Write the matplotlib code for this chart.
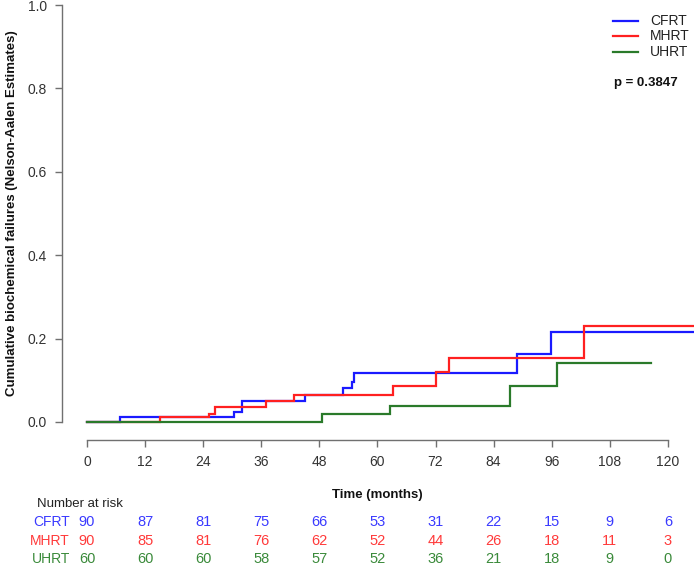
import matplotlib
matplotlib.use("Agg")
import matplotlib.pyplot as plt
from matplotlib.lines import Line2D
from matplotlib.transforms import blended_transform_factory
import numpy as np

plt.rcParams['font.family'] = ['Liberation Sans', 'DejaVu Sans']

groups = ["CFRT", "MHRT", "UHRT"]
colors = ["#1a1aff", "#ff2020", "#2a7a2a"]
table_colors = ["#3a3aff", "#ff3a3a", "#3a8a3a"]

cfrt_t = [0, 6.8, 30.4, 32.0, 45.0, 52.8, 54.7, 55.2, 88.8, 95.9, 127]
cfrt_y = [0, 0.011, 0.025, 0.051, 0.065, 0.081, 0.097, 0.118, 0.164, 0.217, 0.217]
mhrt_t = [0, 15.0, 25.2, 26.4, 36.9, 42.8, 63.2, 72.2, 74.7, 102.6, 127]
mhrt_y = [0, 0.011, 0.020, 0.037, 0.051, 0.065, 0.087, 0.120, 0.153, 0.231, 0.231]
uhrt_t = [0, 48.6, 62.7, 87.4, 97.0, 116.5]
uhrt_y = [0, 0.018, 0.038, 0.087, 0.142, 0.142]

risk_times = [0, 12, 24, 36, 48, 60, 72, 84, 96, 108, 120]
risk_cfrt = [90, 87, 81, 75, 66, 53, 31, 22, 15, 9, 6]
risk_mhrt = [90, 85, 81, 76, 62, 52, 44, 26, 18, 11, 3]
risk_uhrt = [60, 60, 60, 58, 57, 52, 36, 21, 18, 9, 0]

y_ticks = [0.0, 0.2, 0.4, 0.6, 0.8, 1.0]
p_text = "p = 0.3847"

W, H = 694, 565
fig = plt.figure(figsize=(W / 100, H / 100), dpi=100)
ax = fig.add_axes([62 / W, 1 - 440 / H, 1 - 62 / W, 440 / H])

series_t = [cfrt_t, mhrt_t, uhrt_t]
series_y = [cfrt_y, mhrt_y, uhrt_y]
for t, y, c in zip(series_t, series_y, colors):
    ax.step(t, y, where="post", color=c, lw=1.6, solid_joinstyle="miter")

ax.set_xlim(-5.16, 125.4)
ax.set_ylim(-0.0432, 1.012)

for s in ["top", "right"]:
    ax.spines[s].set_visible(False)
ax.spines["left"].set_bounds(0, 1)
ax.spines["bottom"].set_bounds(0, 120)
for s in ["left", "bottom"]:
    ax.spines[s].set_color("#707070")
    ax.spines[s].set_linewidth(1.0)

ax.set_xticks(risk_times)
ax.set_xticklabels([str(v) for v in risk_times])
ax.set_yticks(y_ticks)
ax.set_yticklabels([f"{v:.1f}" for v in y_ticks])
ax.tick_params(axis="both", direction="out", length=5, width=1.0,
               color="#707070", labelcolor="#333333", labelsize=10)
ax.tick_params(axis="x", pad=5.5)
ax.tick_params(axis="y", pad=6)

def fy(py):
    return 1 - py / H

def fx(px):
    return px / W

fig.text(fx(12), fy(213), "Cumulative biochemical failures (Nelson-Aalen Estimates)",
         rotation=90, ha="center", va="center", fontsize=9.5, fontweight="bold",
         color="#111111")
fig.text(fx(377), fy(495), "Time (months)", ha="center", va="center",
         fontsize=9.5, fontweight="bold", color="#111111")

# legend
leg_y = [21, 36, 52]
for g, c, yy in zip(groups, colors, leg_y):
    fig.add_artist(Line2D([fx(613), fx(638)], [fy(yy), fy(yy)], color=c, lw=1.6))
    fig.text(fx(650), fy(yy), g, ha="left", va="center", fontsize=10, color="#222222")
fig.text(fx(614), fy(83), p_text, ha="left", va="center", fontsize=9.5,
         fontweight="bold", color="#111111")

# risk table
tr = blended_transform_factory(ax.transData, fig.transFigure)
fig.text(fx(37), fy(504), "Number at risk", ha="left", va="center", fontsize=9.5,
         color="#222222")
row_y = [522, 541, 559]
risks = [risk_cfrt, risk_mhrt, risk_uhrt]
for g, c, yy, vals in zip(groups, table_colors, row_y, risks):
    fig.text(fx(70), fy(yy), g, ha="right", va="center", fontsize=10, color=c)
    for t, v in zip(risk_times, vals):
        ax.text(t, fy(yy), str(v), transform=tr, ha="center", va="center",
                fontsize=10.5, color=c, clip_on=False)

fig.savefig("out.png", dpi=100)
